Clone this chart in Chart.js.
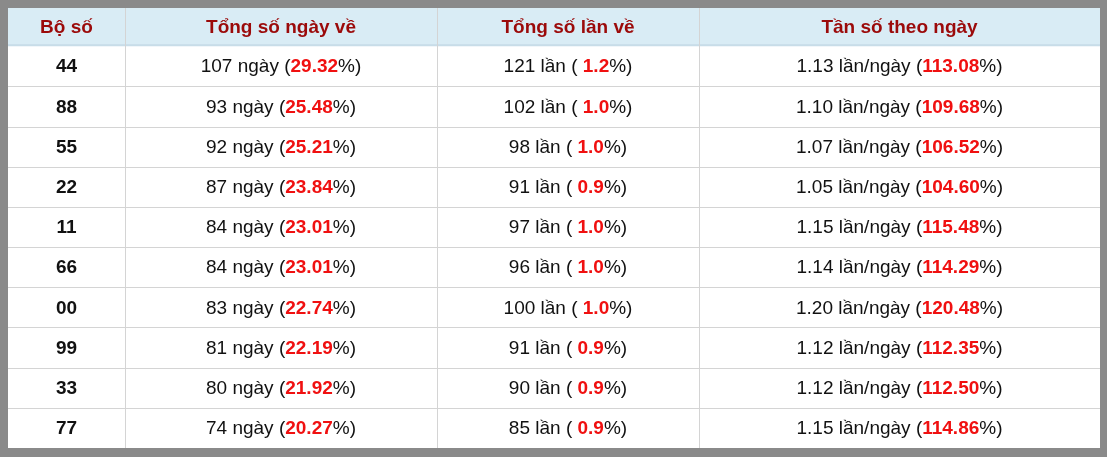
<!DOCTYPE html>
<html><head><meta charset="utf-8">
<script src="https://cdn.jsdelivr.net/npm/chart.js@4"></script>
<style>html,body{margin:0;padding:0;background:#8a8a8a;}canvas{display:block;}</style>
</head><body>
<canvas id="c" width="1107" height="457"></canvas>
<script>
const headers = ["Bộ số", "Tổng số ngày về", "Tổng số lần về", "Tần số theo ngày"];
const boSo = ["44", "88", "55", "22", "11", "66", "00", "99", "33", "77"];
const soNgay = [107, 93, 92, 87, 84, 84, 83, 81, 80, 74];
const pctNgay = ["29.32", "25.48", "25.21", "23.84", "23.01", "23.01", "22.74", "22.19", "21.92", "20.27"];
const soLan = [121, 102, 98, 91, 97, 96, 100, 91, 90, 85];
const pctLan = ["1.2", "1.0", "1.0", "0.9", "1.0", "1.0", "1.0", "0.9", "0.9", "0.9"];
const tanSo = ["1.13", "1.10", "1.07", "1.05", "1.15", "1.14", "1.20", "1.12", "1.12", "1.15"];
const pctTanSo = ["113.08", "109.68", "106.52", "104.60", "115.48", "114.29", "120.48", "112.35", "112.50", "114.86"];

// column edges on the x scale
const colEdges = [8, 125, 437, 699, 1100];
const FONT = '"Liberation Sans", Arial, sans-serif';

function drawParts(ctx, parts, cx, y) {
  let total = 0;
  parts.forEach(p => { ctx.font = (p.bold ? "bold " : "") + "19px " + FONT; p.w = ctx.measureText(p.t).width; total += p.w; });
  let x = cx - total / 2;
  parts.forEach(p => {
    ctx.font = (p.bold ? "bold " : "") + "19px " + FONT;
    ctx.fillStyle = p.color || "#111";
    ctx.fillText(p.t, x, y);
    x += p.w;
  });
}

const tablePlugin = {
  id: "table",
  beforeDraw(chart) {
    const { ctx, scales: { x, y } } = chart;
    const L = x.getPixelForValue(colEdges[0]), R = x.getPixelForValue(colEdges[4]);
    const T = y.getPixelForValue(-0.95), H0 = y.getPixelForValue(0), B = y.getPixelForValue(10);
    ctx.save();
    ctx.fillStyle = "#ffffff";
    ctx.fillRect(L, T, R - L, B - T);
    ctx.fillStyle = "#d9ecf5";
    ctx.fillRect(L, T, R - L, H0 - T);
    ctx.fillStyle = "#c8dde8";
    ctx.fillRect(L, H0 - 2, R - L, 2);
    // grid
    ctx.strokeStyle = "#d4d4d4";
    ctx.lineWidth = 1;
    for (let i = 1; i < 10; i++) {
      const py = Math.round(y.getPixelForValue(i)) + 0.5;
      ctx.beginPath(); ctx.moveTo(L, py); ctx.lineTo(R, py); ctx.stroke();
    }
    for (let j = 1; j < 4; j++) {
      const px = Math.round(x.getPixelForValue(colEdges[j])) + 0.5;
      ctx.beginPath(); ctx.moveTo(px, T); ctx.lineTo(px, B); ctx.stroke();
    }
    ctx.textBaseline = "middle";
    const mids = [0, 1, 2, 3].map(j => (x.getPixelForValue(colEdges[j]) + x.getPixelForValue(colEdges[j + 1])) / 2);
    ctx.textAlign = "center";
    ctx.fillStyle = "#9b0a0a";
    ctx.font = "bold 19px " + FONT;
    headers.forEach((h, j) => ctx.fillText(h, mids[j], (T + H0) / 2 + 1));
    ctx.textAlign = "left";
    const red = "#f01010";
    boSo.forEach((b, i) => {
      const cy = y.getPixelForValue(i + 0.5) + 1;
      drawParts(ctx, [{ t: b, bold: true }], mids[0], cy);
      drawParts(ctx, [{ t: soNgay[i] + " ngày (" }, { t: pctNgay[i], bold: true, color: red }, { t: "%)" }], mids[1], cy);
      drawParts(ctx, [{ t: soLan[i] + " lần ( " }, { t: pctLan[i], bold: true, color: red }, { t: "%)" }], mids[2], cy);
      drawParts(ctx, [{ t: tanSo[i] + " lần/ngày (" }, { t: pctTanSo[i], bold: true, color: red }, { t: "%)" }], mids[3], cy);
    });
    ctx.restore();
  }
};

new Chart(document.getElementById("c"), {
  type: "scatter",
  data: { datasets: [{ data: [] }] },
  options: {
    responsive: false,
    animation: false,
    devicePixelRatio: 1,
    layout: { padding: { left: 8, right: 7, top: 8, bottom: 9 } },
    plugins: { legend: { display: false }, tooltip: { enabled: false } },
    scales: {
      x: { type: "linear", min: colEdges[0], max: colEdges[4], display: false },
      y: { type: "linear", min: -0.95, max: 10, reverse: true, display: false }
    }
  },
  plugins: [tablePlugin]
});
</script>
</body></html>
